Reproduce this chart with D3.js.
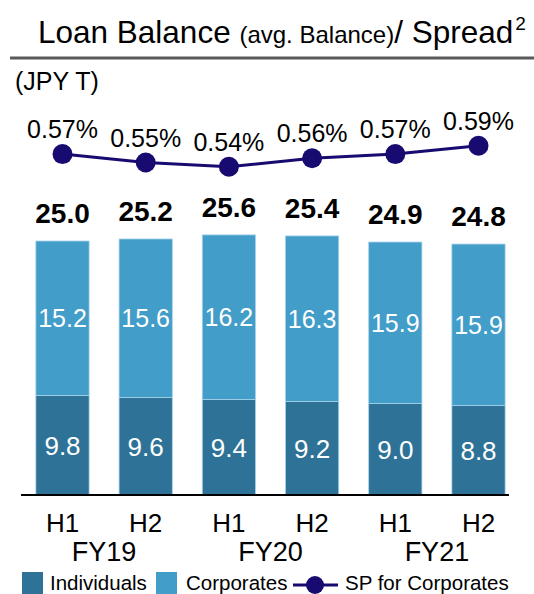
<!DOCTYPE html>
<!-- loan balance stacked bars with spread line on top -->
<html>
<head>
<meta charset="utf-8">
<style>
  body { margin: 0; background: #fff; }
  text { font-family: "Liberation Sans", Arial, sans-serif; }
</style>
</head>
<body>
<div id="chart"></div>
<script src="https://cdn.jsdelivr.net/npm/d3@7"></script>
<script>

// data
const periods = ["FY19 H1", "FY19 H2", "FY20 H1", "FY20 H2", "FY21 H1", "FY21 H2"];
const halves = ["H1", "H2", "H1", "H2", "H1", "H2"];
const fiscalYears = ["FY19", "FY20", "FY21"];
const individuals = [9.8, 9.6, 9.4, 9.2, 9.0, 8.8];
const corporates = [15.2, 15.6, 16.2, 16.3, 15.9, 15.9];
const totals = [25.0, 25.2, 25.6, 25.4, 24.9, 24.8];
const spread = [0.57, 0.55, 0.54, 0.56, 0.57, 0.59];

let width = 534,
    height = 594,
    baseline = 495;

const col_ind = "#2e7397",
      col_corp = "#429dc8",
      col_line = "#170a70";

let svg = d3.select("#chart")
  .append("svg")
    .attr("width", width)
    .attr("height", height);

// title
let title = svg.append("text")
    .attr("x", 38)
    .attr("y", 43)
    .style("font-size", "31.5px")
    .attr("fill", "#000");
title.append("tspan").text("Loan Balance ");
title.append("tspan").style("font-size", "24px").text("(avg. Balance)");
title.append("tspan").text("/ Spread");
title.append("tspan").style("font-size", "19px").attr("dy", -13).attr("dx", 2).text("2");

svg.append("line")
    .attr("x1", 10).attr("x2", width)
    .attr("y1", 58).attr("y2", 58)
    .attr("stroke", "#5a5a5a")
    .attr("stroke-width", 3);

svg.append("text")
    .attr("x", 15)
    .attr("y", 90)
    .style("font-size", "25px")
    .text("(JPY T)");

// scales
let x = d3.scaleBand()
    .domain(periods)
    .range([20.9, 520.1])
    .paddingInner(0.36)
    .paddingOuter(0.18);

let y = d3.scaleLinear()
    .domain([0, 30])
    .range([baseline, baseline - 304.8]);

let y_sp = d3.scaleLinear()
    .domain([0.50, 0.60])
    .range([183.5, 141.5]);

let rows = periods.map((p, i) => ({
  period: p,
  ind: individuals[i],
  corp: corporates[i],
  total: totals[i],
  sp: spread[i]
}));

let stack = d3.stack().keys(["ind", "corp"])(rows);
let colors = {ind: col_ind, corp: col_corp};

let bars = svg.append("g");
stack.forEach(layer => {
  bars.selectAll(".seg-" + layer.key)
    .data(layer)
    .enter()
    .append("rect")
      .attr("class", "seg-" + layer.key)
      .attr("x", d => x(d.data.period))
      .attr("width", x.bandwidth())
      .attr("y", d => y(d[1]))
      .attr("height", d => y(d[0]) - y(d[1]))
      .attr("fill", colors[layer.key])
      .attr("stroke", "#a9d3ea")
      .attr("stroke-width", 0.8);

  // values inside segments
  bars.selectAll(".lab-" + layer.key)
    .data(layer)
    .enter()
    .append("text")
      .attr("x", d => x(d.data.period) + x.bandwidth() / 2)
      .attr("y", d => (y(d[0]) + y(d[1])) / 2)
      .attr("dy", "0.36em")
      .attr("text-anchor", "middle")
      .attr("fill", "#fff")
      .style("font-size", layer.key == "ind" ? "26px" : "25px")
      .text(d => d.data[layer.key].toFixed(1));
});

// totals above bars
let top_layer = stack[stack.length - 1];
svg.selectAll(".total")
  .data(top_layer)
  .enter()
  .append("text")
    .attr("class", "total")
    .attr("x", d => x(d.data.period) + x.bandwidth() / 2)
    .attr("y", d => y(d[1]) - 18)
    .attr("text-anchor", "middle")
    .style("font-size", "28px")
    .style("font-weight", "bold")
    .text(d => d.data.total.toFixed(1));

// axis line
svg.append("line")
    .attr("x1", 21).attr("x2", 509)
    .attr("y1", baseline).attr("y2", baseline)
    .attr("stroke", "#000")
    .attr("stroke-width", 2);

// category labels
svg.selectAll(".half")
  .data(periods)
  .enter()
  .append("text")
    .attr("x", d => x(d) + x.bandwidth() / 2)
    .attr("y", 532)
    .attr("text-anchor", "middle")
    .style("font-size", "26px")
    .text((d, i) => halves[i]);

svg.selectAll(".fy")
  .data(fiscalYears)
  .enter()
  .append("text")
    .attr("x", (d, i) => (x(periods[i * 2]) + x(periods[i * 2 + 1]) + x.bandwidth()) / 2)
    .attr("y", 561)
    .attr("text-anchor", "middle")
    .style("font-size", "27px")
    .text(d => d);

// spread line
let line = d3.line()
    .x(d => x(d.period) + x.bandwidth() / 2)
    .y(d => y_sp(d.sp));

svg.append("path")
    .datum(rows)
    .attr("d", line)
    .attr("fill", "none")
    .attr("stroke", col_line)
    .attr("stroke-width", 3);

svg.selectAll(".dot")
  .data(rows)
  .enter()
  .append("circle")
    .attr("cx", d => x(d.period) + x.bandwidth() / 2)
    .attr("cy", d => y_sp(d.sp))
    .attr("r", 10)
    .attr("fill", col_line);

svg.selectAll(".sp-label")
  .data(rows)
  .enter()
  .append("text")
    .attr("x", d => x(d.period) + x.bandwidth() / 2)
    .attr("y", d => y_sp(d.sp) - 16)
    .attr("text-anchor", "middle")
    .style("font-size", "25px")
    .text(d => d.sp.toFixed(2) + "%");

// legend
let legend = svg.append("g").attr("transform", "translate(0,572)");
legend.append("rect").attr("x", 22).attr("y", 0).attr("width", 21).attr("height", 22).attr("fill", col_ind);
legend.append("text").attr("x", 50).attr("y", 18).style("font-size", "20.5px").text("Individuals");
legend.append("rect").attr("x", 156).attr("y", 0).attr("width", 21).attr("height", 22).attr("fill", col_corp);
legend.append("text").attr("x", 186).attr("y", 18).style("font-size", "20.5px").text("Corporates");
legend.append("line").attr("x1", 293).attr("x2", 338).attr("y1", 13).attr("y2", 13)
    .attr("stroke", col_line).attr("stroke-width", 3);
legend.append("circle").attr("cx", 315).attr("cy", 13).attr("r", 9).attr("fill", col_line);
legend.append("text").attr("x", 345).attr("y", 18).style("font-size", "20.5px").text("SP for Corporates");

</script>
</body>
</html>
